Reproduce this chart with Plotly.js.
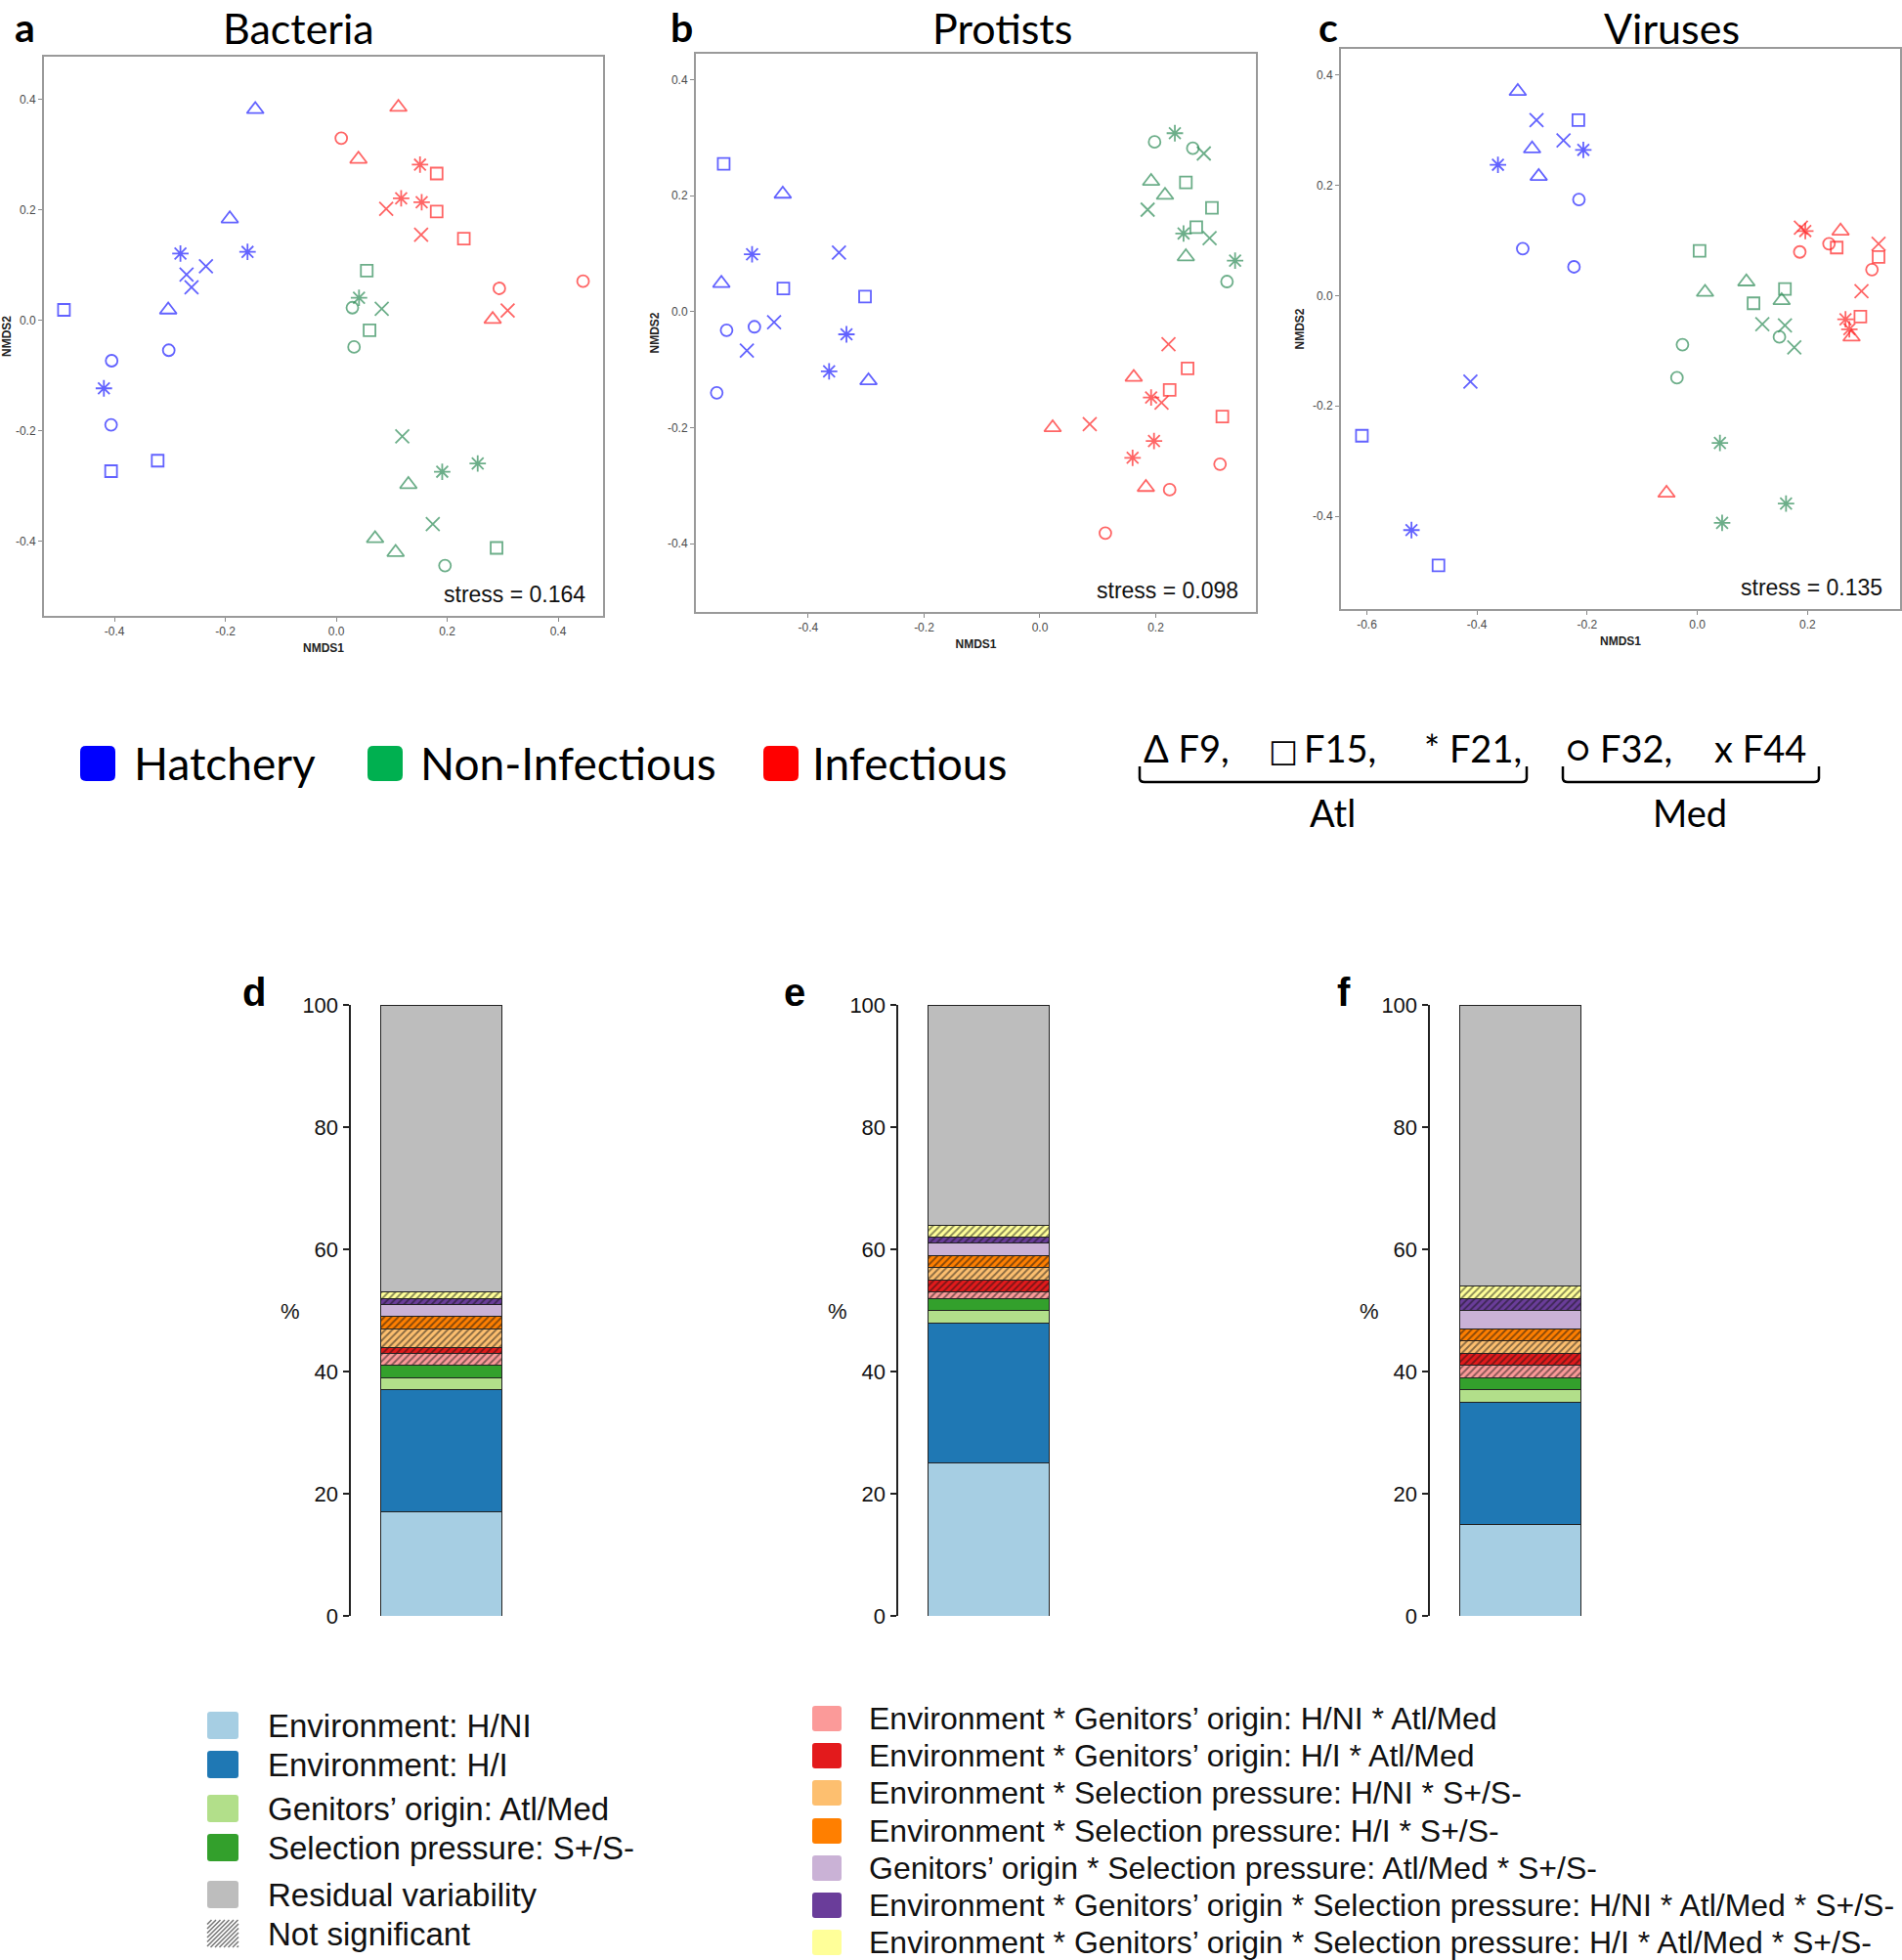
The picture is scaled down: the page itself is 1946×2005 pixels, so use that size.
<!DOCTYPE html>
<html><head><meta charset="utf-8">
<script src="https://cdn.plot.ly/plotly-3.0.1.min.js"></script>
<style>body{margin:0;background:#fff}#chart{width:1946px;height:2005px}</style>
</head><body><div id="chart"></div>
<script>
// ================= DATA =================
// NMDS: point order = Hatchery(15), Non-Infectious(15), Infectious(15); within each: F9,F15,F21,F32,F44 (3 each)
const pointGroup = ['H','H','H','H','H','H','H','H','H','H','H','H','H','H','H',
                    'N','N','N','N','N','N','N','N','N','N','N','N','N','N','N',
                    'I','I','I','I','I','I','I','I','I','I','I','I','I','I','I'];
const pointFamily = ['F9','F9','F9','F15','F15','F15','F21','F21','F21','F32','F32','F32','F44','F44','F44',
                     'F9','F9','F9','F15','F15','F15','F21','F21','F21','F32','F32','F32','F44','F44','F44',
                     'F9','F9','F9','F15','F15','F15','F21','F21','F21','F32','F32','F32','F44','F44','F44'];

const bacteriaX = [-0.146,-0.192,-0.303, -0.491,-0.406,-0.322, -0.281,-0.160,-0.419, -0.405,-0.302,-0.406, -0.270,-0.235,-0.261,
                    0.130, 0.070, 0.107,  0.055, 0.060, 0.289,  0.041, 0.191, 0.255,  0.029, 0.032, 0.196,  0.082, 0.119, 0.174,
                    0.112, 0.040, 0.282,  0.181, 0.181, 0.230,  0.151, 0.117, 0.154,  0.009, 0.294, 0.445,  0.090, 0.153, 0.309];
const bacteriaY = [ 0.382, 0.184, 0.019,  0.019,-0.273,-0.254,  0.121, 0.124,-0.123, -0.073,-0.054,-0.189,  0.083, 0.098, 0.060,
                   -0.297,-0.395,-0.420,  0.090,-0.018,-0.412,  0.041,-0.274,-0.259,  0.023,-0.048,-0.444,  0.021,-0.210,-0.369,
                    0.386, 0.292, 0.002,  0.266, 0.197, 0.148,  0.282, 0.221, 0.214,  0.330, 0.058, 0.071,  0.202, 0.155, 0.018];

const protistsX = [-0.444,-0.550,-0.296, -0.546,-0.443,-0.302, -0.497,-0.334,-0.364, -0.541,-0.493,-0.558, -0.347,-0.459,-0.506,
                    0.192, 0.216, 0.252,  0.252, 0.297, 0.270,  0.233, 0.248, 0.337,  0.198, 0.264, 0.323,  0.283, 0.186, 0.293,
                    0.162, 0.022, 0.183,  0.255, 0.224, 0.315,  0.192, 0.197, 0.160,  0.224, 0.311, 0.113,  0.222, 0.086, 0.210];
const protistsY = [ 0.203, 0.049,-0.119,  0.255, 0.040, 0.026,  0.099,-0.039,-0.103, -0.032,-0.026,-0.140,  0.102,-0.018,-0.067,
                    0.225, 0.201, 0.095,  0.223, 0.179, 0.146,  0.308, 0.135, 0.088,  0.293, 0.282, 0.052,  0.273, 0.176, 0.127,
                   -0.113,-0.200,-0.303, -0.098,-0.135,-0.181, -0.148,-0.223,-0.252, -0.307,-0.263,-0.382, -0.056,-0.194,-0.157];

const virusesX = [-0.326,-0.300,-0.288, -0.216,-0.609,-0.470, -0.362,-0.207,-0.519, -0.215,-0.317,-0.224, -0.292,-0.243,-0.412,
                   0.014, 0.089, 0.153,  0.004, 0.102, 0.159,  0.041, 0.161, 0.045,  0.149,-0.027,-0.037,  0.118, 0.159, 0.176,
                   0.260, 0.280,-0.056,  0.253, 0.329, 0.296,  0.196, 0.269, 0.276,  0.186, 0.239, 0.317,  0.188, 0.329, 0.298];
const virusesY = [ 0.370, 0.266, 0.216,  0.318,-0.254,-0.489,  0.237, 0.264,-0.425,  0.174, 0.085, 0.052,  0.318, 0.281,-0.156,
                   0.006, 0.025,-0.009,  0.081,-0.014, 0.012, -0.267,-0.377,-0.412, -0.075,-0.089,-0.149, -0.052,-0.054,-0.094,
                   0.117,-0.075,-0.358,  0.087, 0.070,-0.038,  0.117,-0.043,-0.061,  0.079, 0.094, 0.047,  0.123, 0.094, 0.008];

const panelTitles = ['Bacteria','Protists','Viruses'];
const stressValues = ['0.164','0.098','0.135'];
const nmdsTickVals = [-0.6,-0.4,-0.2,0,0.2,0.4];
const nmdsTickText = ['-0.6','-0.4','-0.2','0.0','0.2','0.4'];

// Variance partitioning (%), bottom to top; [Bacteria, Protists, Viruses]
const sourceLabels = ['Environment: H/NI','Environment: H/I','Genitors’ origin: Atl/Med','Selection pressure: S+/S-',
  'Environment * Genitors’ origin: H/NI * Atl/Med','Environment * Genitors’ origin: H/I * Atl/Med',
  'Environment * Selection pressure: H/NI * S+/S-','Environment * Selection pressure: H/I * S+/S-',
  'Genitors’ origin * Selection pressure: Atl/Med * S+/S-',
  'Environment * Genitors’ origin * Selection pressure: H/NI * Atl/Med * S+/S-',
  'Environment * Genitors’ origin * Selection pressure: H/I * Atl/Med * S+/S-',
  'Residual variability'];
const envHNI      = [17, 25, 15];
const envHI       = [20, 23, 20];
const genitors    = [2, 2, 2];
const selection   = [2, 2, 2];
const envGenHNI   = [2, 1, 2];
const envGenHI    = [1, 2, 2];
const envSelHNI   = [3, 2, 2];
const envSelHI    = [2, 2, 2];
const genSel      = [2, 2, 3];
const envGenSelHNI= [1, 1, 2];
const envGenSelHI = [1, 2, 2];
const residual    = [47, 36, 46];
const notSignificant = [false,false,false,false,true,true,true,true,false,true,true,false];
const barTickVals = [0,20,40,60,80,100];

// ================= STYLE =================
const W = 1946, H = 2005;
const px = v => v / W, py = v => 1 - v / H;
const groupColor = {H:'#1f1fff', N:'#2e8b57', I:'#ff2424'};
const famSymbol = {F9:'triangle-up-open', F15:'square-open', F21:'asterisk-open', F32:'circle-open', F44:'x-thin-open'};
const famSize = {F9:15, F15:12, F21:14, F32:12, F44:14};
const sourceColors = ['#a6cee3','#1f78b4','#b2df8a','#33a02c','#fb9a99','#e31a1c','#fdbf6f','#ff7f00','#cab2d6','#6a3d9a','#ffff99','#bdbdbd'];

const data = [];
const panelXY = [[bacteriaX,bacteriaY],[protistsX,protistsY],[virusesX,virusesY]];
panelXY.forEach((xy, p) => {
  ['H','N','I'].forEach(g => {
    const idx = pointGroup.map((v,i)=>v===g?i:-1).filter(i=>i>=0);
    data.push({
      type:'scatter', mode:'markers',
      x: idx.map(i=>xy[0][i]), y: idx.map(i=>xy[1][i]),
      xaxis: p===0?'x':'x'+(p+1), yaxis: p===0?'y':'y'+(p+1),
      marker:{symbol: idx.map(i=>famSymbol[pointFamily[i]]), size: idx.map(i=>famSize[pointFamily[i]]),
              color: groupColor[g], line:{color: groupColor[g], width:1.8}},
      hoverinfo:'skip', showlegend:false
    });
  });
});

const barSeries = [envHNI, envHI, genitors, selection, envGenHNI, envGenHI, envSelHNI, envSelHI, genSel, envGenSelHNI, envGenSelHI, residual];
[0,1,2].forEach(p => {
  barSeries.forEach((s, c) => {
    const m = {color: sourceColors[c], line:{color:'#222', width:1}};
    if (notSignificant[c]) m.pattern = {shape:'/', fgcolor:'#111', size:5, solidity:0.38, fillmode:'overlay'};
    data.push({type:'bar', x:[0.5], y:[s[p]], width:0.665, xaxis:'x'+(4+p), yaxis:'y'+(4+p),
      marker:m, hoverinfo:'skip', showlegend:false, name: sourceLabels[c]});
  });
});

// ================= LAYOUT =================
const tickFont = {family:'Liberation Sans, Arial', size:12, color:'#4a4a4a'};
const ttlFont = {family:'Liberation Sans, Arial', size:12, color:'#222', weight:'bold'};
function nmdsX(dom, range){ return {domain:[px(dom[0]),px(dom[1])], range:range, showgrid:false, zeroline:false,
  showline:true, mirror:true, linecolor:'#9a9a9a', linewidth:2, ticks:'outside', ticklen:4, tickcolor:'#888',
  tickvals:nmdsTickVals, ticktext:nmdsTickText, tickfont:tickFont, title:{text:'NMDS1', font:ttlFont, standoff:6}}; }
function nmdsY(dom, range){ return {domain:[py(dom[1]),py(dom[0])], range:range, showgrid:false, zeroline:false,
  showline:true, mirror:true, linecolor:'#9a9a9a', linewidth:2, ticks:'outside', ticklen:4, tickcolor:'#888',
  tickvals:nmdsTickVals, ticktext:nmdsTickText, tickfont:tickFont, title:{text:'NMDS2', font:ttlFont, standoff:6}}; }
function barX(x0){ return {domain:[px(x0), px(x0+185)], range:[0,1], visible:false, fixedrange:true}; }
function barY(anchor){ return {domain:[py(1653), py(1028)], range:[0,100], anchor:anchor, showgrid:false, zeroline:false,
  showline:true, linecolor:'#222', linewidth:2.5, ticks:'outside', ticklen:6, tickwidth:2, tickcolor:'#222',
  tickvals:barTickVals, tickfont:{family:'Liberation Sans, Arial', size:22, color:'#111'}}; }

const layout = {
  width:W, height:H, margin:{l:0,r:0,t:0,b:0}, paper_bgcolor:'#fff', plot_bgcolor:'#fff',
  showlegend:false, barmode:'stack', bargap:0,
  xaxis: Object.assign(nmdsX([45,617],[-0.527,0.481]), {anchor:'y'}),
  yaxis: Object.assign(nmdsY([58,630],[-0.535,0.4775]), {anchor:'x'}),
  xaxis2: Object.assign(nmdsX([712,1285],[-0.594,0.373]), {anchor:'y2'}),
  yaxis2: Object.assign(nmdsY([55,626],[-0.518,0.445]), {anchor:'x2'}),
  xaxis3: Object.assign(nmdsX([1372,1944],[-0.647,0.368]), {anchor:'y3'}),
  yaxis3: Object.assign(nmdsY([50,623],[-0.568,0.447]), {anchor:'x3'}),
  xaxis4: Object.assign(barX(359), {anchor:'y4'}), yaxis4: barY('x4'),
  xaxis5: Object.assign(barX(919), {anchor:'y5'}), yaxis5: barY('x5'),
  xaxis6: Object.assign(barX(1463), {anchor:'y6'}), yaxis6: barY('x6'),
  annotations:[], shapes:[]
};
const A = layout.annotations, S = layout.shapes;
function txt(t, x, y, size, opts){ A.push(Object.assign({text:t, x:px(x), y:py(y), xref:'paper', yref:'paper', showarrow:false,
  xanchor:'center', yanchor:'middle', font:{family:'Lato', size:size, color:'#000'}}, opts||{})); }

// NMDS titles, letters, stress
[[305,'a',25],[1025,'b',697],[1710,'c',1359]].forEach((t,i)=>{
  txt(panelTitles[i], t[0], 1, 43, {yanchor:'top'});
  txt(t[1], t[2], 1, 41, {yanchor:'top', font:{family:'Lato', size:41, color:'#000', weight:'bold'}});
});
['', '2', '3'].forEach((s,i)=>{
  A.push({text:'stress = '+stressValues[i], xref:'x'+s+' domain', yref:'y'+s+' domain', x:0.972, y:0.038,
    xanchor:'right', yanchor:'middle', showarrow:false, font:{family:'Liberation Sans, Arial', size:23, color:'#111'}});
});

// Group legend
function roundRect(x0,y0,x1,y1,r){
  const X=v=>px(v).toFixed(5), Y=v=>py(v).toFixed(5);
  return `M${X(x0+r)},${Y(y0)} L${X(x1-r)},${Y(y0)} Q${X(x1)},${Y(y0)} ${X(x1)},${Y(y0+r)} L${X(x1)},${Y(y1-r)} Q${X(x1)},${Y(y1)} ${X(x1-r)},${Y(y1)} L${X(x0+r)},${Y(y1)} Q${X(x0)},${Y(y1)} ${X(x0)},${Y(y1-r)} L${X(x0)},${Y(y0+r)} Q${X(x0)},${Y(y0)} ${X(x0+r)},${Y(y0)} Z`;
}
const groupLegend = [['Hatchery','#0000ff',82,135],['Non-Infectious','#00b050',376,428],['Infectious','#ff0000',781,829]];
groupLegend.forEach(g=>{
  S.push({type:'path', path:roundRect(g[2],763,g[2]+36,799,6), xref:'paper', yref:'paper', fillcolor:g[1], line:{width:0}});
  txt(g[0], g[3], 781, 46, {xanchor:'left'});
});
// family legend
[['Δ F9,',1168],['F15,',1332],['* F21,',1455],['○ F32,',1600],['x F44',1752]].forEach(t=>txt(t[0], t[1], 765, 38, {xanchor:'left'}));
txt('□', 1296, 768, 32, {xanchor:'left', font:{family:'DejaVu Sans', size:32, color:'#000'}});
function brace(x0,x1){
  const X=v=>px(v).toFixed(5), Y=v=>py(v).toFixed(5);
  const yt=784, yb=800;
  return `M${X(x0)},${Y(yt)} L${X(x0)},${Y(yb-4)} Q${X(x0)},${Y(yb)} ${X(x0+5)},${Y(yb)} L${X(x1-5)},${Y(yb)} Q${X(x1)},${Y(yb)} ${X(x1)},${Y(yb-4)} L${X(x1)},${Y(yt)}`;
}
S.push({type:'path', path:brace(1166,1562), xref:'paper', yref:'paper', line:{color:'#000', width:2.5}});
S.push({type:'path', path:brace(1599,1861), xref:'paper', yref:'paper', line:{color:'#000', width:2.5}});
txt('Atl', 1363, 831, 38); txt('Med', 1729, 831, 38);

// bar letters and % labels
[['d',260,359],['e',813,919],['f',1375,1463]].forEach(l=>{
  txt(l[0], l[1], 1015, 40, {font:{family:'Liberation Sans, Arial', size:40, color:'#000', weight:'bold'}});
  txt('%', l[2]-62, 1341, 22, {font:{family:'Liberation Sans, Arial', size:22, color:'#111'}});
});

// Bar legend (left column)
const lgFontL = {family:'Liberation Sans, Arial', size:33, color:'#111'};
const lgFontR = {family:'Liberation Sans, Arial', size:32, color:'#111'};
const leftIdx = [0,1,2,3,11];
const leftY = [1765,1805,1850,1890,1938];
leftIdx.forEach((c,k)=>{
  S.push({type:'path', path:roundRect(212,leftY[k]-14,244,leftY[k]+14,3), xref:'paper', yref:'paper', fillcolor:sourceColors[c], line:{width:0}});
  txt(sourceLabels[c], 272, leftY[k], 33, {xanchor:'left', font:lgFontL});
});
// hatched swatch
(function(){
  const x0=212, w=32, y1=1992, h=28; let d='';
  for(let c=-h; c<w; c+=4.5){
    const u0=Math.max(0,c), u1=Math.min(w,h+c);
    if(u1<=u0) continue;
    d += `M${px(x0+u0).toFixed(5)},${py(y1-(u0-c)).toFixed(5)} L${px(x0+u1).toFixed(5)},${py(y1-(u1-c)).toFixed(5)} `;
  }
  S.push({type:'path', path:d, xref:'paper', yref:'paper', line:{color:'#777', width:1.5}});
})();
txt('Not significant', 272, 1978, 33, {xanchor:'left', font:lgFontL});
// Bar legend (right column)
const rightIdx = [4,5,6,7,8,9,10];
const rightY = [1758,1796,1834,1873,1911,1949,1987];
rightIdx.forEach((c,k)=>{
  S.push({type:'path', path:roundRect(831,rightY[k]-13,861,rightY[k]+13,3), xref:'paper', yref:'paper', fillcolor:sourceColors[c], line:{width:0}});
  txt(sourceLabels[c], 887, rightY[k], 32, {xanchor:'left', font:lgFontR});
});

Plotly.newPlot('chart', data, layout, {displayModeBar:false, staticPlot:true});
</script></body></html>
